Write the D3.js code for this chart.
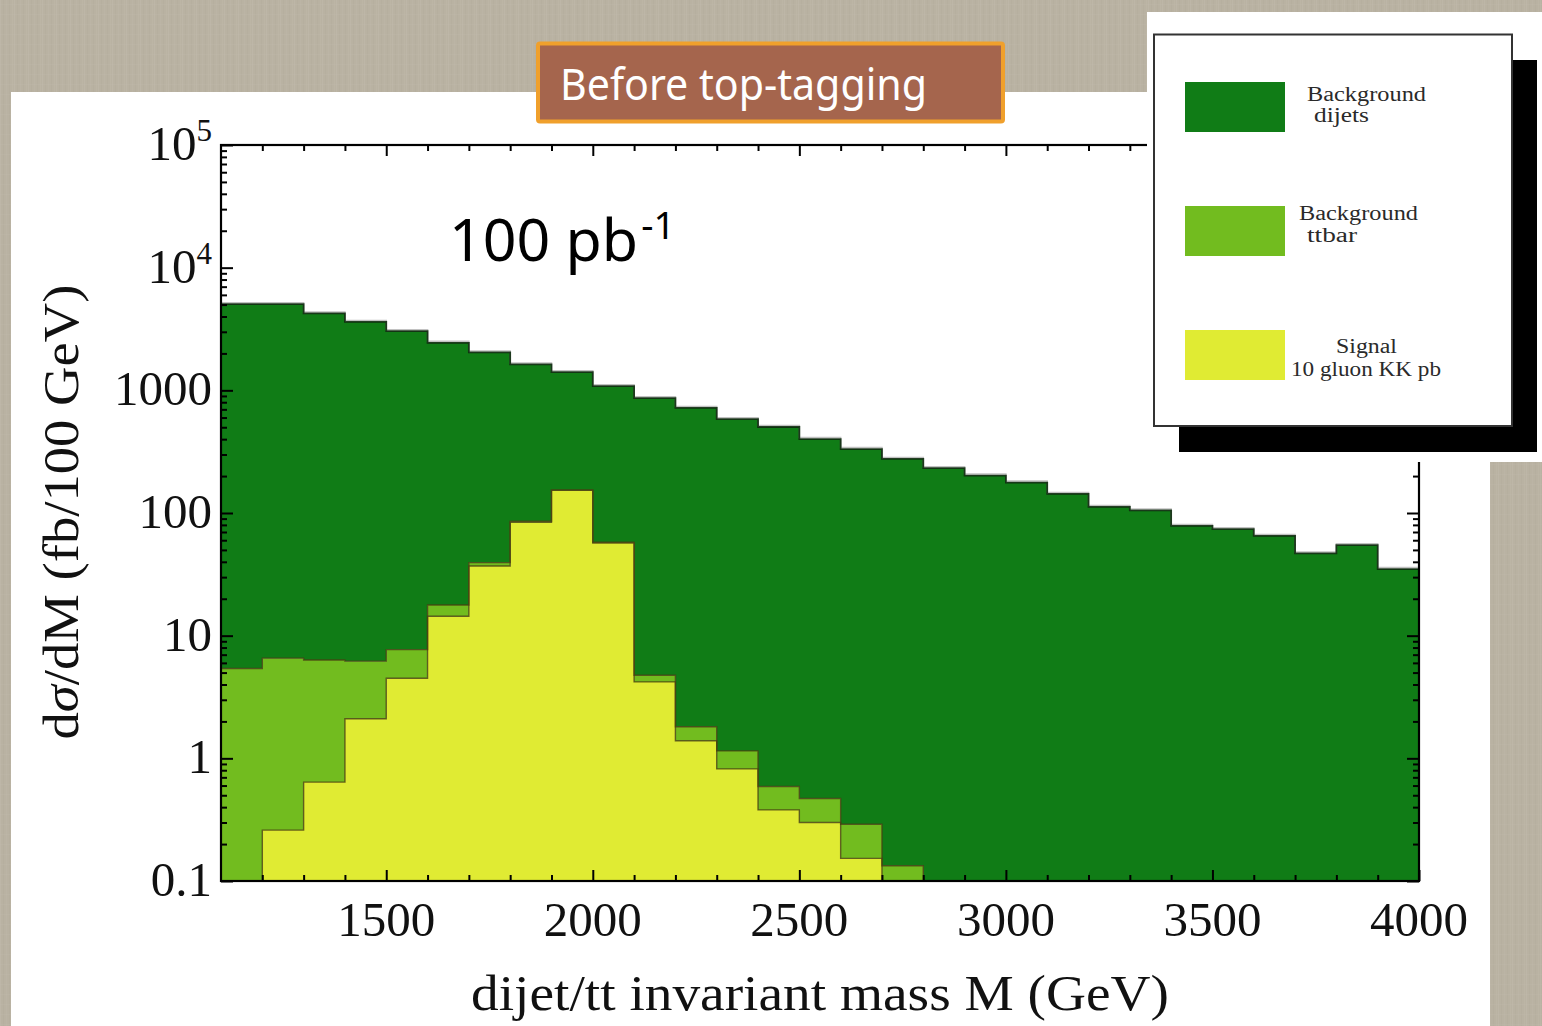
<!DOCTYPE html>
<html>
<head>
<meta charset="utf-8">
<script src="https://cdn.jsdelivr.net/npm/d3@7"></script>
<style>
  html, body { margin: 0; padding: 0; overflow: hidden; background: #b8b1a1; }
  svg { display: block; }
</style>
</head>
<body>
<svg id="chart" width="1542" height="1026"></svg>
<script>
// Invariant-mass bins (lower edges, GeV), 100 GeV wide
const binStarts = [1100, 1200, 1300, 1400, 1500, 1600, 1700, 1800, 1900, 2000,
                   2100, 2200, 2300, 2400, 2500, 2600, 2700, 2800, 2900, 3000,
                   3100, 3200, 3300, 3400, 3500, 3600, 3700, 3800, 3900];
const binWidth = 100;

// dσ/dM in fb per 100 GeV for each contribution (stacked: signal, ttbar, dijets)
const signal = [0, 0.26, 0.64, 2.1, 4.5, 14.4, 37, 84, 153, 57,
                4.2, 1.39, 0.82, 0.38, 0.30, 0.153, 0, 0, 0, 0,
                0, 0, 0, 0, 0, 0, 0, 0, 0];
const ttbar = [5.4, 6.3, 5.7, 4.1, 3.2, 3.4, 2.4, 1.7, 1.2, 0.8,
               0.56, 0.42, 0.33, 0.21, 0.17, 0.137, 0.133, 0, 0, 0,
               0, 0, 0, 0, 0, 0, 0, 0, 0];
const dijets = [5035, 5033, 4230, 3606, 3026, 2420, 1997, 1540, 1252, 1023,
                858, 717, 581, 502, 400, 332, 276, 232, 202, 177,
                143, 112, 105, 78.5, 73.8, 65, 46.8, 54.7, 34.9];

const seriesKeys = ["signal", "ttbar", "dijets"];
const seriesColors = { dijets: "#107c16", ttbar: "#72bc1f", signal: "#e0eb33" };

// Axis ticks
const xMajorTicks = [1500, 2000, 2500, 3000, 3500, 4000];
const xMinorTicks = [1200, 1300, 1400, 1600, 1700, 1800, 1900, 2100, 2200, 2300, 2400,
                     2600, 2700, 2800, 2900, 3100, 3200, 3300, 3400, 3600, 3700, 3800, 3900];
const yMajorTicks = [0.1, 1, 10, 100, 1000, 1e4, 1e5];
const yTickBase = ["0.1", "1", "10", "100", "1000", "10", "10"];
const yTickExp  = ["", "", "", "", "", "4", "5"];

// Legend entries (two lines each)
const legendEntries = [
  { key: "dijets", lines: ["Background", "dijets"] },
  { key: "ttbar",  lines: ["Background", "ttbar"] },
  { key: "signal", lines: ["Signal", "10 gluon KK pb"] }
];

const titleText = "Before top-tagging";
const lumiText = "100 pb";
const lumiExp = "-1";
const xLabel = "dijet/tt invariant mass M (GeV)";

// ---------------------------------------------------------------
const svg = d3.select("#chart");
const W = 1542, H = 1026;
const plot = { left: 221, right: 1419, top: 145, bottom: 881 };

const defs = svg.append("defs");

// linen-like slide backdrop
const pat = defs.append("pattern").attr("id", "linen")
  .attr("width", 14).attr("height", 10).attr("patternUnits", "userSpaceOnUse");
pat.append("rect").attr("width", 14).attr("height", 10).attr("fill", "#b9b2a2");
[[0, "#bfb9aa", 0.6], [3, "#b1aa9b", 0.4], [6, "#bdb6a7", 0.5], [9, "#b2ab9c", 0.4], [12, "#c0baab", 0.4]]
  .forEach(([x0, c, o]) => pat.append("rect").attr("x", x0).attr("y", 0)
    .attr("width", 1).attr("height", 10).attr("fill", c).attr("opacity", o));
pat.append("rect").attr("x", 0).attr("y", 4).attr("width", 14).attr("height", 1)
  .attr("fill", "#c0baac").attr("opacity", 0.3);

svg.append("rect").attr("width", W).attr("height", H).attr("fill", "url(#linen)");

// white slide panel
svg.append("rect").attr("x", 11).attr("y", 92).attr("width", 1479).attr("height", H - 92).attr("fill", "#ffffff");

// scales
const x = d3.scaleLinear().domain([1100, 4000]).range([plot.left, plot.right]);
const y = d3.scaleLog().domain([0.1, 1e5]).range([plot.bottom, plot.top]).clamp(true);
const yv = v => y(Math.max(v, 0.1));

// stacked histogram
const table = binStarts.map((m, i) => ({ m, signal: signal[i], ttbar: ttbar[i], dijets: dijets[i] }));
const stacked = d3.stack().keys(seriesKeys)(table);

const stepPoints = layer => {
  const pts = layer.map((d, i) => ({ x: binStarts[i], y0: d[0], y1: d[1] }));
  const last = pts[pts.length - 1];
  pts.push({ x: last.x + binWidth, y0: last.y0, y1: last.y1 });
  return pts;
};

const area = d3.area().curve(d3.curveStepAfter)
  .x(p => x(p.x)).y0(p => yv(p.y0)).y1(p => yv(p.y1));
const topLine = d3.line().curve(d3.curveStepAfter)
  .x(p => x(p.x)).y(p => yv(p.y1));

const gHist = svg.append("g");
stacked.forEach(layer => {
  gHist.append("path").datum(stepPoints(layer))
    .attr("d", area).attr("fill", seriesColors[layer.key]).attr("stroke", "none");
});
// soft grey halo above the total
gHist.append("path").datum(stepPoints(stacked[2]))
  .attr("d", topLine).attr("fill", "none").attr("stroke", "#9a9a9a")
  .attr("stroke-width", 1.5).attr("transform", "translate(0,-1.5)").attr("opacity", 0.6);
stacked.forEach(layer => {
  gHist.append("path").datum(stepPoints(layer))
    .attr("d", topLine).attr("fill", "none")
    .attr("stroke", layer.key === "dijets" ? "#0d2a0d" : "#4a4012")
    .attr("stroke-opacity", layer.key === "dijets" ? 0.9 : 0.8)
    .attr("stroke-width", layer.key === "dijets" ? 1.8 : 1.4);
});

// frame with inward ticks on all sides
const minorY = [];
for (let e = -1; e < 5; e++) for (let k = 2; k <= 9; k++) minorY.push(k * Math.pow(10, e));

const axes = svg.append("g").attr("class", "axes");
function styleAxis(g) {
  g.select(".domain").remove();
  g.selectAll(".tick line").attr("stroke", "#000").attr("stroke-width", 2);
  g.selectAll(".tick text").remove();
}
// bottom
axes.append("g").attr("transform", `translate(0,${plot.bottom})`)
  .call(d3.axisBottom(x).tickValues(xMajorTicks).tickSize(-11).tickSizeOuter(0)).call(styleAxis);
axes.append("g").attr("transform", `translate(0,${plot.bottom})`)
  .call(d3.axisBottom(x).tickValues(xMinorTicks).tickSize(-6).tickSizeOuter(0)).call(styleAxis);
// top
axes.append("g").attr("transform", `translate(0,${plot.top})`)
  .call(d3.axisTop(x).tickValues(xMajorTicks).tickSize(-11).tickSizeOuter(0)).call(styleAxis);
axes.append("g").attr("transform", `translate(0,${plot.top})`)
  .call(d3.axisTop(x).tickValues(xMinorTicks).tickSize(-6).tickSizeOuter(0)).call(styleAxis);
// left
axes.append("g").attr("transform", `translate(${plot.left},0)`)
  .call(d3.axisLeft(y).tickValues(yMajorTicks).tickSize(-12).tickSizeOuter(0)).call(styleAxis);
axes.append("g").attr("transform", `translate(${plot.left},0)`)
  .call(d3.axisLeft(y).tickValues(minorY).tickSize(-6).tickSizeOuter(0)).call(styleAxis);
// right
axes.append("g").attr("transform", `translate(${plot.right},0)`)
  .call(d3.axisRight(y).tickValues(yMajorTicks).tickSize(-12).tickSizeOuter(0)).call(styleAxis);
axes.append("g").attr("transform", `translate(${plot.right},0)`)
  .call(d3.axisRight(y).tickValues(minorY).tickSize(-6).tickSizeOuter(0)).call(styleAxis);

axes.append("rect").attr("x", plot.left).attr("y", plot.top)
  .attr("width", plot.right - plot.left).attr("height", plot.bottom - plot.top)
  .attr("fill", "none").attr("stroke", "#000").attr("stroke-width", 2.2);

// tick labels
const serif = "'Liberation Serif', 'Times New Roman', serif";
const xLabels = svg.append("g").attr("font-family", serif).attr("font-size", 49).attr("fill", "#111");
xMajorTicks.forEach(v => {
  xLabels.append("text").attr("x", x(v)).attr("y", 936).attr("text-anchor", "middle").text(v);
});
const yLabels = svg.append("g").attr("font-family", serif).attr("font-size", 49).attr("fill", "#111");
yMajorTicks.forEach((v, i) => {
  const t = yLabels.append("text").attr("x", 212).attr("y", y(v) + 15).attr("text-anchor", "end");
  t.append("tspan").text(yTickBase[i]);
  if (yTickExp[i]) t.append("tspan").attr("font-size", 31).attr("dy", -19).text(yTickExp[i]);
});

// axis titles
svg.append("text").attr("x", (plot.left + plot.right) / 2).attr("y", 1010)
  .attr("text-anchor", "middle").attr("font-family", serif).attr("font-size", 50)
  .attr("textLength", 698).attr("lengthAdjust", "spacingAndGlyphs")
  .attr("fill", "#111").text(xLabel);

const yTitle = svg.append("text")
  .attr("transform", `translate(78,${(plot.top + plot.bottom) / 2 - 1}) rotate(-90)`)
  .attr("text-anchor", "middle").attr("font-family", serif).attr("font-size", 50)
  .attr("textLength", 455).attr("lengthAdjust", "spacingAndGlyphs").attr("fill", "#111");
yTitle.append("tspan").text("d");
yTitle.append("tspan").attr("font-style", "italic").text("σ");
yTitle.append("tspan").text("/dM (fb/100 GeV)");

// luminosity note
const sans = "'Noto Sans', 'Open Sans', sans-serif";
const lumi = svg.append("text").attr("x", 449).attr("y", 261)
  .attr("font-family", sans).attr("font-size", 59).attr("fill", "#000");
lumi.append("tspan").text(lumiText);
lumi.append("tspan").attr("font-size", 38).attr("dy", -22).attr("dx", 3).text(lumiExp);

// legend panel
svg.append("rect").attr("x", 1147).attr("y", 12).attr("width", W - 1147).attr("height", 450).attr("fill", "#ffffff");
svg.append("rect").attr("x", 1179).attr("y", 60).attr("width", 358).attr("height", 392).attr("fill", "#000");
svg.append("rect").attr("x", 1154).attr("y", 34.5).attr("width", 358).attr("height", 391.5)
  .attr("fill", "#ffffff").attr("stroke", "#333").attr("stroke-width", 2);

const legendRows = [82, 206, 330];
const legendText = [
  [{ x: 1307, y: 101, w: 119 }, { x: 1314, y: 122, w: 55 }],
  [{ x: 1299, y: 220, w: 119 }, { x: 1307, y: 242, w: 50 }],
  [{ x: 1336, y: 353, w: 61 }, { x: 1291, y: 376, w: 150 }]
];
const legend = svg.append("g").attr("font-family", serif).attr("font-size", 20).attr("fill", "#2a2a2a");
legendEntries.forEach((e, i) => {
  legend.append("rect").attr("x", 1185).attr("y", legendRows[i]).attr("width", 100).attr("height", 50)
    .attr("fill", seriesColors[e.key]);
  e.lines.forEach((ln, j) => {
    const p = legendText[i][j];
    legend.append("text").attr("x", p.x).attr("y", p.y)
      .attr("textLength", p.w).attr("lengthAdjust", "spacingAndGlyphs").text(ln);
  });
});

// title box
svg.append("rect").attr("x", 538).attr("y", 43.5).attr("width", 465).attr("height", 78)
  .attr("fill", "#a5654d").attr("stroke", "#f0a02c").attr("stroke-width", 4).attr("rx", 2);
svg.append("text").attr("x", 560).attr("y", 100).attr("font-family", sans).attr("font-size", 44)
  .attr("fill", "#ffffff").attr("textLength", 367).attr("lengthAdjust", "spacingAndGlyphs").text(titleText);
</script>
</body>
</html>
